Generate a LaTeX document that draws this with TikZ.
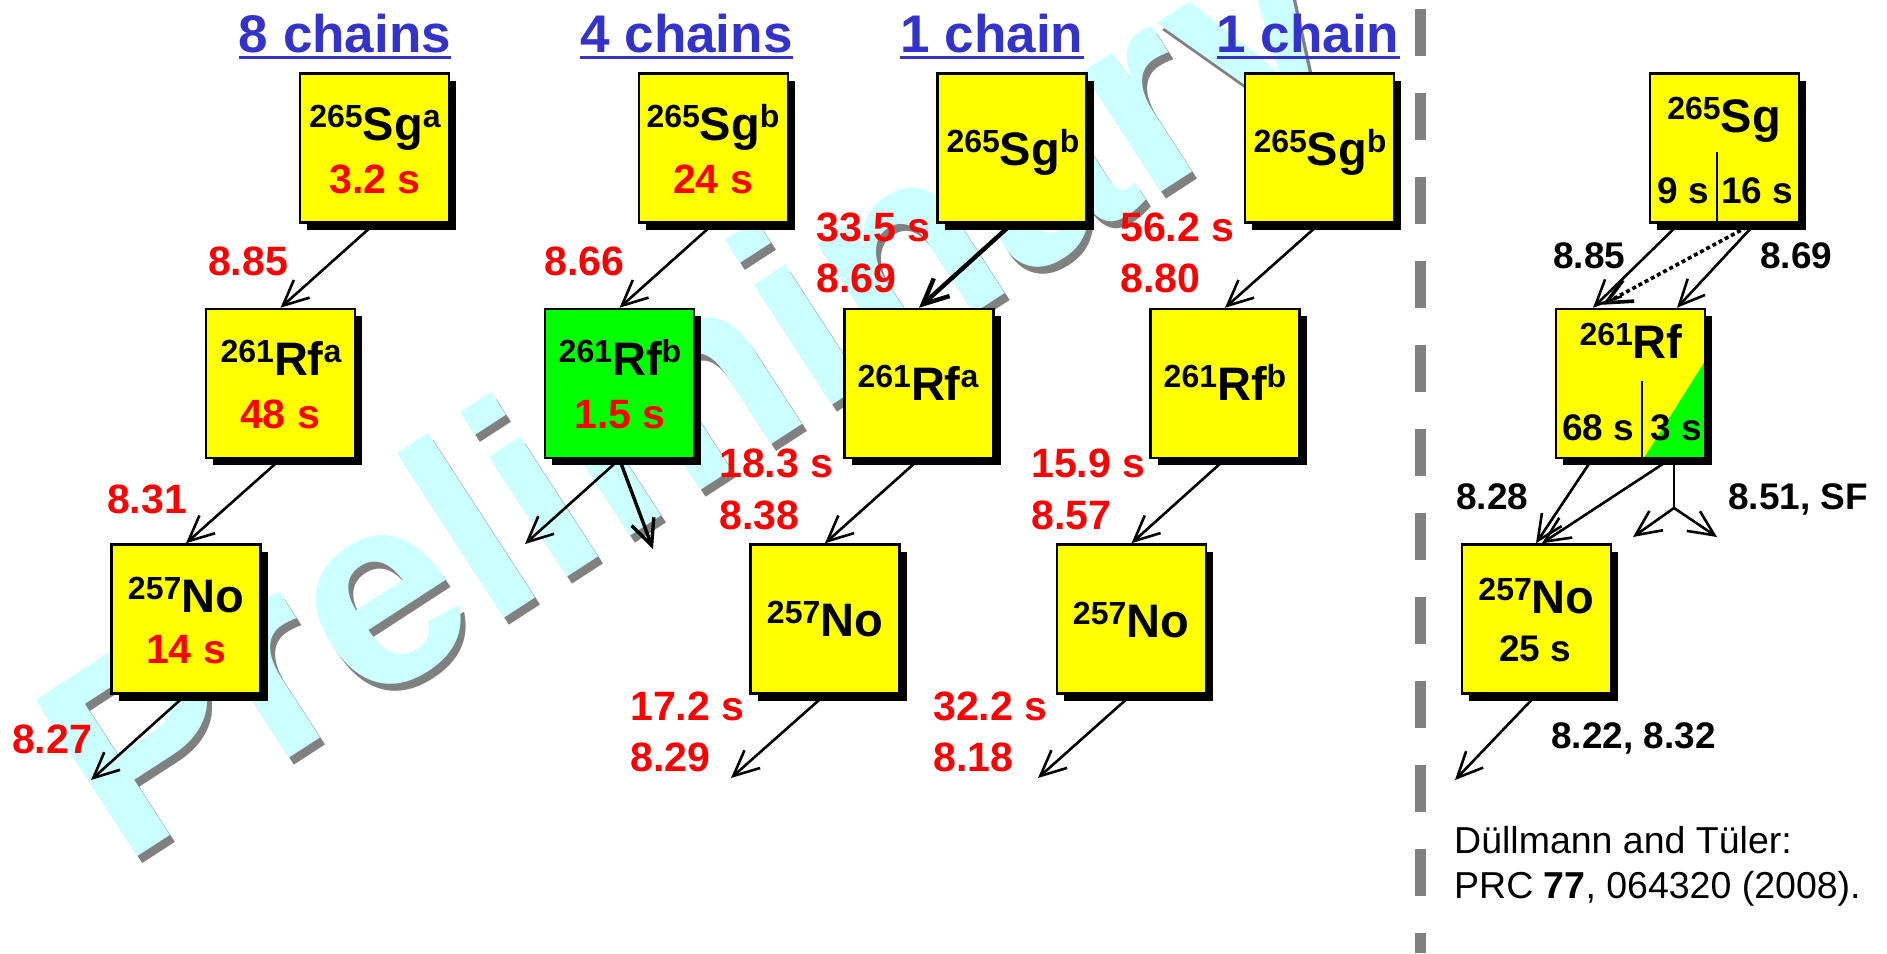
\documentclass[tikz,border=0pt]{standalone}
\usepackage{fontspec}
\setmainfont{Liberation Sans}
\usetikzlibrary{arrows.meta,shadows}
\definecolor{tblue}{RGB}{51,51,204}
\definecolor{wcyan}{RGB}{204,255,255}
\definecolor{dgray}{RGB}{128,128,128}
\definecolor{ylw}{RGB}{255,255,0}
\definecolor{grn}{RGB}{0,255,0}
\definecolor{rd}{RGB}{255,0,0}
\newcommand{\nuc}[3]{{\fontsize{32}{32}\selectfont\raisebox{13pt}{#1}}{\fontsize{47}{47}\selectfont #2}{\fontsize{32}{32}\selectfont\raisebox{13pt}{#3}}}
\tikzset{
  box/.style={draw=black, line width=2.5pt, fill=ylw, minimum width=149pt, minimum height=149pt, inner sep=0pt,
    drop shadow={shadow xshift=7pt, shadow yshift=-7pt, fill=black, opacity=1}},
  nuctxt/.style={inner sep=0pt, anchor=base, font=\bfseries},
  hl/.style={inner sep=0pt, anchor=base, text=rd, font=\bfseries\fontsize{41}{41}\selectfont},
  rlab/.style={inner sep=0pt, anchor=base west, text=rd, font=\bfseries\fontsize{41}{41}\selectfont},
  blab/.style={inner sep=0pt, anchor=base west, font=\bfseries\fontsize{37}{37}\selectfont},
  bhl/.style={inner sep=0pt, anchor=base, font=\bfseries\fontsize{37}{37}\selectfont},
  ttl/.style={inner sep=0pt, anchor=base, text=tblue, font=\bfseries\fontsize{53}{53}\selectfont},
  uline/.style={tblue, line width=3pt},
  arr/.style={line width=2.6pt, -{Straight Barb[angle=50:28pt]}},
  wmark/.style={rotate=33, anchor=base west, inner sep=0pt, font=\bfseries\fontsize{271}{271}\selectfont},
  divider/.style={line width=2.5pt},
  refnote/.style={inner sep=0pt, anchor=base west, font=\fontsize{37.5}{37.5}\selectfont}
}
\begin{document}
\begin{tikzpicture}[x=1pt,y=-1pt]
\useasboundingbox (0,0) rectangle (1887,953);
% watermark
\node[wmark, text=dgray] (wms) at (127,874) {Preliminary};
\node[wmark, text=wcyan] (wm) at (122,867) {Preliminary};
% dashed separator
\coordinate (sepTop) at (1420,9);
\coordinate (sepBot) at (1420,953);
\draw[dgray, line width=11pt, dash pattern=on 47pt off 37pt] (sepTop) -- (sepBot);
% titles
\node[ttl] (t1) at (345,52) {8 chains};
\node[ttl] (t2) at (686.5,52) {4 chains};
\node[ttl] (t3) at (992,52) {1 chain};
\node[ttl] (t4) at (1308,52) {1 chain};
\foreach \t in {t1,t2,t3,t4}{\draw[uline] ([yshift=-5.5pt]\t.base west) -- ([yshift=-5.5pt]\t.base east);}
% boxes
\node[box] (sga) at (374.5,148) {};
\node[box] (rfa1) at (280.5,383.5) {};
\node[box] (no1) at (186,619) {};
\node[box] (sgb2) at (713.5,148) {};
\node[box, fill=grn] (rfb2) at (619.5,383.5) {};
\node[box] (sgb3) at (1012,148) {};
\node[box] (rfa3) at (919,383.5) {};
\node[box] (no3) at (825,619) {};
\node[box] (sgb4) at (1319.5,148) {};
\node[box] (rfb4) at (1225,383.5) {};
\node[box] (no4) at (1131.5,619) {};
\node[box] (rsg) at (1724.5,148) {};
\node[box, path picture={\fill[grn] (path picture bounding box.south east) -- ([yshift=97pt]path picture bounding box.south east) -- ([xshift=-61pt]path picture bounding box.south east) -- cycle;}] (rrf) at (1630.5,383.5) {};
\node[box] (rno) at (1536.5,619) {};
% dividers in right boxes
\draw[divider] ([xshift=-7.5pt,yshift=-4pt]rsg.center) -- ([xshift=-7.5pt]rsg.south);
\draw[divider] ([xshift=11.5pt,yshift=2.5pt]rrf.center) -- ([xshift=11.5pt]rrf.south);
% box texts
\node[nuctxt] (x1) at (375,140) {\nuc{265}{Sg}{a}};
\node[hl] (h1) at (375,193) {3.2 s};
\node[nuctxt] (x2) at (281,375) {\nuc{261}{Rf}{a}};
\node[hl] (h2) at (280,428) {48 s};
\node[nuctxt] (x3) at (186,612) {\nuc{257}{No}{}};
\node[hl] (h3) at (186,663) {14 s};
\node[nuctxt] (x4) at (713,140) {\nuc{265}{Sg}{b}};
\node[hl] (h4) at (713,193) {24 s};
\node[nuctxt] (x5) at (620,375) {\nuc{261}{Rf}{b}};
\node[hl] (h5) at (620,428) {1.5 s};
\node[nuctxt] (x6) at (1013,165) {\nuc{265}{Sg}{b}};
\node[nuctxt] (x7) at (918,400) {\nuc{261}{Rf}{a}};
\node[nuctxt] (x8) at (825,636) {\nuc{257}{No}{}};
\node[nuctxt] (x9) at (1320,165) {\nuc{265}{Sg}{b}};
\node[nuctxt] (x10) at (1225,400) {\nuc{261}{Rf}{b}};
\node[nuctxt] (x11) at (1131,637) {\nuc{257}{No}{}};
\node[nuctxt] (x12) at (1724,132) {\nuc{265}{Sg}{}};
\node[bhl] (h12a) at (1683,203) {9 s};
\node[bhl] (h12b) at (1757,203) {16 s};
\node[nuctxt] (x13) at (1631,358) {\nuc{261}{Rf}{}};
\node[bhl] (h13a) at (1598,440) {68 s};
\node[bhl] (h13b) at (1676,440) {3 s};
\node[nuctxt] (x14) at (1536.5,613) {\nuc{257}{No}{}};
\node[bhl] (h14) at (1535,661) {25 s};
% free arrow ends
\coordinate (e1) at (91,780);
\coordinate (e2a) at (525,544);
\coordinate (e2b) at (653,549);
\coordinate (e3) at (731,778);
\coordinate (e4) at (1038,778);
\coordinate (e5) at (1455,780);
\coordinate (split) at (1674,508);
\coordinate (e6a) at (1633,537);
\coordinate (e6b) at (1717,537);
% arrows
\draw[arr] (sga.south) -- (rfa1.north);
\draw[arr] (rfa1.south) -- (no1.north);
\draw[arr] (no1.south) -- (e1);
\draw[arr] (sgb2.south) -- (rfb2.north);
\draw[arr] (rfb2.south) -- (e2a);
\draw[arr, line width=3.4pt] (rfb2.south) -- (e2b);
\draw[arr, line width=4.4pt] (sgb3.south) -- (rfa3.north);
\draw[arr] (rfa3.south) -- (no3.north);
\draw[arr] (no3.south) -- (e3);
\draw[arr] (sgb4.south) -- (rfb4.north);
\draw[arr] (rfb4.south) -- (no4.north);
\draw[arr] (no4.south) -- (e4);
\draw[arr] ([xshift=-45.5pt]rsg.south) -- ([xshift=-37.5pt]rrf.north);
\draw[arr, dash pattern=on 4pt off 3pt, line width=3.6pt] ([xshift=28.5pt]rsg.south) -- ([xshift=-28pt,yshift=3pt]rrf.north);
\draw[arr] ([xshift=30.5pt]rsg.south) -- ([xshift=46.5pt]rrf.north);
\draw[arr] ([xshift=-38.5pt]rrf.south) -- ([xshift=-0.5pt]rno.north);
\draw[arr] ([xshift=39.5pt]rrf.south) -- ([xshift=5.5pt]rno.north);
\draw[line width=2.6pt] ([xshift=43.5pt]rrf.south) -- (split);
\draw[arr] (split) -- (e6a);
\draw[arr] (split) -- (e6b);
\draw[arr] (rno.south) -- (e5);
% red labels
\node[rlab] (l1) at (208,275) {8.85};
\node[rlab] (l2) at (107,513) {8.31};
\node[rlab] (l3) at (12,753) {8.27};
\node[rlab] (l4) at (544,275) {8.66};
\node[rlab] (l5) at (816,241) {33.5 s};
\node[rlab] (l6) at (816,292) {8.69};
\node[rlab] (l7) at (719,477) {18.3 s};
\node[rlab] (l8) at (719,529) {8.38};
\node[rlab] (l9) at (630,720) {17.2 s};
\node[rlab] (l10) at (630,771) {8.29};
\node[rlab] (l11) at (1120,241) {56.2 s};
\node[rlab] (l12) at (1120,292) {8.80};
\node[rlab] (l13) at (1031,477) {15.9 s};
\node[rlab] (l14) at (1031,529) {8.57};
\node[rlab] (l15) at (933,720) {32.2 s};
\node[rlab] (l16) at (933,771) {8.18};
% black labels
\node[blab] (b1) at (1553,268) {8.85};
\node[blab] (b2) at (1760,268) {8.69};
\node[blab] (b3) at (1456,509) {8.28};
\node[blab] (b4) at (1728,509) {8.51, SF};
\node[blab] (b5) at (1551,748) {8.22, 8.32};
% reference
\node[refnote] (r1) at (1454,853) {Düllmann and Tüler:};
\node[refnote] (r2) at (1454,898) {PRC \textbf{77}, 064320 (2008).};
\end{tikzpicture}
\end{document}
